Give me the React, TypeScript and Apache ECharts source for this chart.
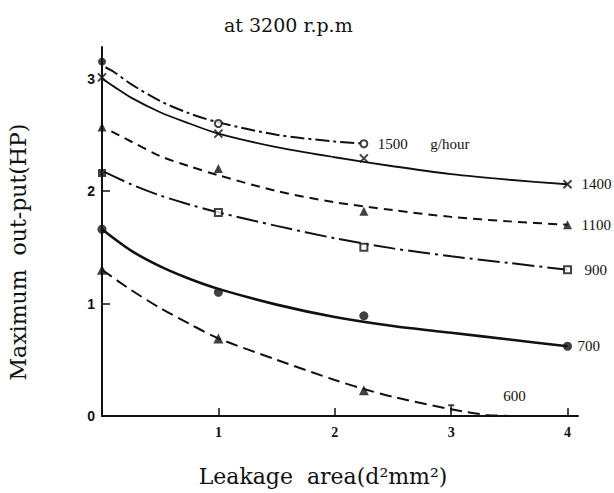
import React, { useEffect, useRef } from "react";
import * as echarts from "echarts";

// ---- data (x: leakage area d²mm², y: max output HP) ----
const xTickValues = [1, 2, 3, 4];
const yTickValues = [0, 1, 2, 3];

// fitted curves
const curve1500 = [[0.03, 3.1], [0.1, 3.06], [0.25, 2.95], [0.5, 2.8], [0.75, 2.69], [1, 2.61], [1.5, 2.5], [2, 2.44], [2.25, 2.42]];
const curve1400 = [[0, 3.0], [0.1, 2.93], [0.25, 2.83], [0.5, 2.7], [0.75, 2.6], [1, 2.51], [1.5, 2.39], [2, 2.3], [2.5, 2.22], [3, 2.15], [3.5, 2.1], [4, 2.06]];
const curve1100 = [[0.08, 2.53], [0.25, 2.44], [0.5, 2.31], [0.75, 2.22], [1, 2.14], [1.5, 2.0], [2, 1.9], [2.5, 1.83], [3, 1.77], [3.5, 1.73], [4, 1.7]];
const curve900 = [[0.02, 2.17], [0.25, 2.06], [0.5, 1.96], [0.75, 1.88], [1, 1.81], [1.5, 1.69], [2, 1.58], [2.5, 1.49], [3, 1.42], [3.5, 1.36], [4, 1.3]];
const curve700 = [[0, 1.66], [0.25, 1.47], [0.5, 1.33], [0.75, 1.22], [1, 1.13], [1.5, 0.99], [2, 0.88], [2.5, 0.8], [3, 0.74], [3.5, 0.68], [4, 0.62]];
const curve600 = [[0, 1.3], [0.25, 1.12], [0.5, 0.96], [0.75, 0.82], [1, 0.69], [1.5, 0.5], [2, 0.32], [2.25, 0.24], [2.5, 0.17], [3, 0.06], [3.3, 0.01], [3.55, 0]];

// measured points
const pts1500Axis = [[0, 3.15]];
const pts1500 = [[1, 2.6], [2.25, 2.42]];
const pts1400 = [[0, 3.01], [1, 2.51], [2.25, 2.29], [4, 2.06]];
const pts1100 = [[0, 2.57], [1, 2.2], [2.25, 1.82], [4, 1.7]];
const pts900Axis = [[0, 2.16]];
const pts900 = [[1, 1.81], [2.25, 1.5], [4, 1.3]];
const pts700 = [[0, 1.66], [1, 1.1], [2.25, 0.89], [4, 0.62]];
const pts600 = [[0, 1.3], [1, 0.69], [2.25, 0.23]];
const pts600small = [[3, 0.07]];

const seriesNames = ["1500", "1400", "1100", "900", "700", "600"];

const X_PATH = "path://M0,0L10,10M10,0L0,10";
const PIN_PATH = "path://M0,0L10,0M5,0L5,10";

export default function App() {
  const ref = useRef<HTMLDivElement>(null);
  useEffect(() => {
    if (!ref.current) return;
    const chart = echarts.init(ref.current, null, { renderer: "svg" });
    const labelFont = { fontFamily: "Liberation Serif", fontSize: 15, color: "#111" };
    const line = (name: string, data: number[][], type: any, width: number, endLabel: any) => ({
      type: "line",
      name,
      data,
      smooth: 0.3,
      showSymbol: false,
      lineStyle: { color: "#111", width, type },
      endLabel: { show: true, ...labelFont, ...endLabel },
      z: 2,
    });
    const scatter = (data: number[][], symbol: string, size: number, itemStyle: any) => ({
      type: "scatter",
      data,
      symbol,
      symbolSize: size,
      itemStyle,
      z: 3,
    });
    const filled = { color: "#111" };
    const empty = { color: "#111", borderColor: "#111", borderWidth: 2 };
    const stroked = { color: "transparent", borderColor: "#111", borderWidth: 2 };
    chart.setOption({
      animation: false,
      backgroundColor: "#fff",
      title: {
        text: "at 3200 r.p.m",
        left: 219,
        top: 10,
        textStyle: { fontFamily: "DejaVu Serif", fontSize: 19, fontWeight: "normal", color: "#111" },
      },
      grid: { left: 102, right: 36, top: 47, bottom: 77 },
      xAxis: {
        type: "value",
        min: 0,
        max: 4.09,
        splitLine: { show: false },
        axisLine: { show: true, lineStyle: { color: "#111", width: 2 } },
        axisTick: { show: true, inside: true, length: 8, customValues: xTickValues, lineStyle: { color: "#111", width: 1.5 } },
        axisLabel: { customValues: xTickValues, margin: 9, fontFamily: "Liberation Serif", fontWeight: "bold", fontSize: 14, color: "#111" },
      },
      yAxis: {
        type: "value",
        min: 0,
        max: 3.28,
        splitLine: { show: false },
        axisLine: { show: true, lineStyle: { color: "#111", width: 2 } },
        axisTick: { show: true, inside: true, length: 8, customValues: [1, 2], lineStyle: { color: "#111", width: 1.5 } },
        axisLabel: { customValues: yTickValues, margin: 7, fontFamily: "Liberation Sans", fontWeight: "bold", fontSize: 14, color: "#111" },
      },
      graphic: [
        {
          type: "text",
          x: 18,
          y: 252,
          rotation: Math.PI / 2,
          style: {
            text: "Maximum  out-put(HP)",
            font: "22px 'DejaVu Serif'",
            fill: "#111",
            textAlign: "center",
            textVerticalAlign: "middle",
          },
        },
        {
          type: "text",
          x: 323,
          y: 476,
          style: {
            text: "Leakage  area(d²mm²)",
            font: "22px 'DejaVu Serif'",
            fill: "#111",
            textAlign: "center",
            textVerticalAlign: "middle",
          },
        },
      ],
      series: [
        line(seriesNames[0], curve1500, [14, 4, 3, 4], 2, { formatter: "1500      g/hour", distance: 14 }),
        line(seriesNames[1], curve1400, "solid", 1.8, { formatter: "1400", distance: 14 }),
        line(seriesNames[2], curve1100, [9, 6], 2, { formatter: "1100", distance: 14 }),
        line(seriesNames[3], curve900, [22, 5, 3, 5], 2, { formatter: "900", distance: 17 }),
        line(seriesNames[4], curve700, "solid", 2.6, { formatter: "700", distance: 10 }),
        line(seriesNames[5], curve600, [12, 6], 2, { formatter: "600", distance: 8, offset: [-20, -20] }),
        scatter(pts1500Axis, "circle", 8, filled),
        scatter(pts1500, "emptyCircle", 7, empty),
        scatter(pts1400, X_PATH, 8, stroked),
        scatter(pts1100, "triangle", 9, filled),
        scatter(pts900Axis, "rect", 8, filled),
        scatter(pts900, "emptyRect", 7, empty),
        scatter(pts700, "circle", 9, filled),
        scatter(pts600, "triangle", 10, filled),
        scatter(pts600small, PIN_PATH, 6, stroked),
      ],
    });
    return () => chart.dispose();
  }, []);
  return (
    <div
      ref={ref}
      style={{ position: "absolute", left: 0, top: 0, width: 614, height: 493, overflow: "hidden" }}
    />
  );
}
